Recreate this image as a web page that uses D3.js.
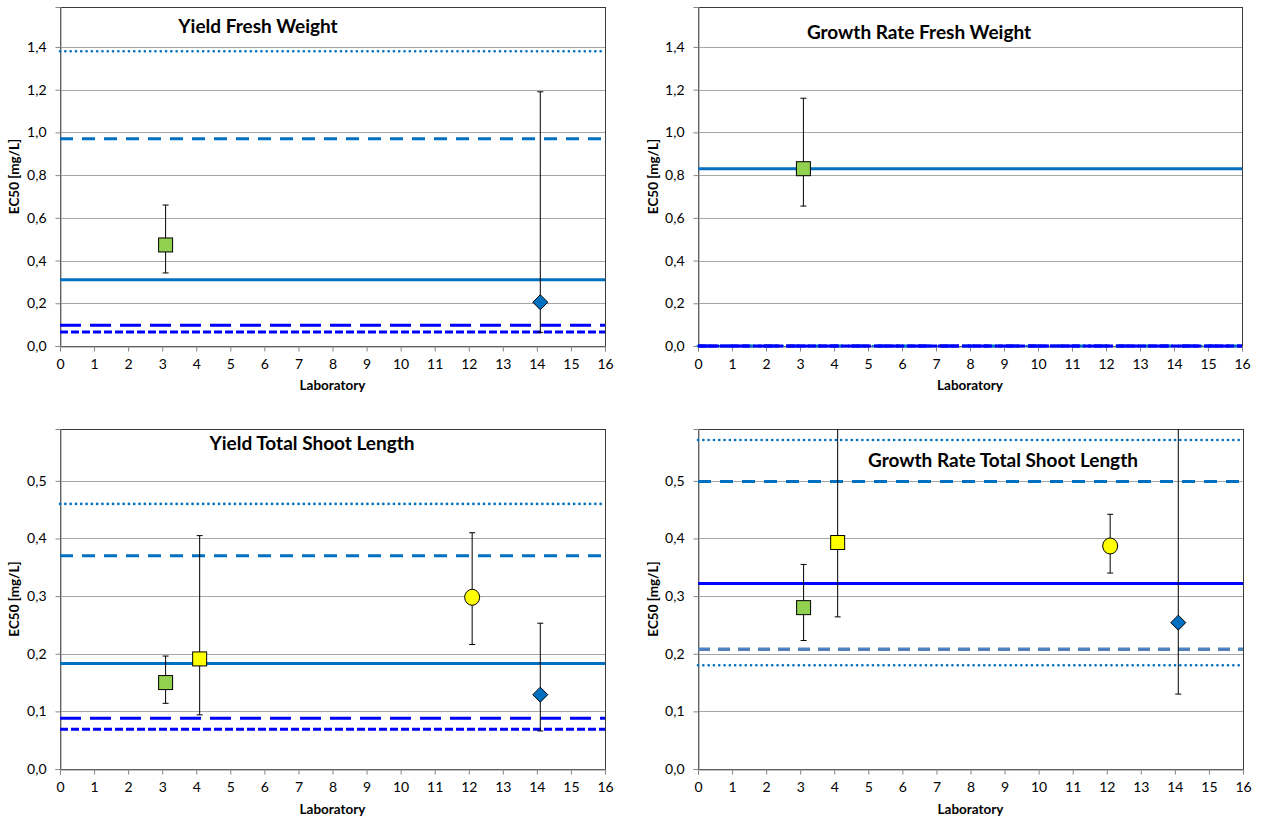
<!DOCTYPE html>
<html><head><meta charset="utf-8">
<script src="https://cdn.jsdelivr.net/npm/d3@7"></script>
<style>
body{margin:0;background:#fff;}
text{font-family:Lato,"Open Sans",sans-serif;}
</style></head>
<body><svg id="c" width="1263" height="819"></svg>
<script>
// ---- data ----
const panelTitles = ["Yield Fresh Weight","Growth Rate Fresh Weight","Yield Total Shoot Length","Growth Rate Total Shoot Length"];
const xTickLabels = [0,1,2,3,4,5,6,7,8,9,10,11,12,13,14,15,16];
const yTicksFW = [0,0.2,0.4,0.6,0.8,1.0,1.2,1.4];
const yTicksSL = [0,0.1,0.2,0.3,0.4,0.5];

// labs and their marker type
const labIds = [3,4,12,14];
const labMarkers = ["square","square","circle","diamond"];
const labColors = ["#92D050","#FFFF00","#FFFF00","#0070C0"];

// Yield Fresh Weight
const yfwLabs = [3,14];
const yfwEC50 = [0.473,0.205];
const yfwUpper = [0.66,1.19];
const yfwLower = [0.342,0.064];
const yfwRefValues = [1.38,0.97,0.31,0.097,0.065];
const yfwRefStyles = ["dot","dash","solid","longdash","shortdash"];

// Growth Rate Fresh Weight
const grfwLabs = [3];
const grfwEC50 = [0.83];
const grfwUpper = [1.16];
const grfwLower = [0.655];
const grfwRefValues = [0,0,0,0,0.83];
const grfwRefStyles = ["dot","dash","longdash","shortdash","solid"];

// Yield Total Shoot Length
const ytslLabs = [3,4,12,14];
const ytslEC50 = [0.150,0.191,0.298,0.129];
const ytslUpper = [0.196,0.405,0.410,0.253];
const ytslLower = [0.114,0.094,0.216,0.066];
const ytslRefValues = [0.46,0.37,0.183,0.088,0.069];
const ytslRefStyles = ["dot","dash","solid","longdash","shortdash"];

// Growth Rate Total Shoot Length
const grtslLabs = [3,4,12,14];
const grtslEC50 = [0.280,0.393,0.387,0.254];
const grtslUpper = [0.355,0.70,0.442,0.70];
const grtslLower = [0.223,0.264,0.340,0.130];
const grtslRefValues = [0.571,0.499,0.322,0.208,0.180];
const grtslRefStyles = ["dot","dash","solidblue","graydash","dot"];

// ---- styles ----
const lineStyles = {
  dot:{color:"#0070C0",w:2.6,dash:"0.1,5.2",cap:"round"},
  dash:{color:"#0070C0",w:3,dash:"13,9",cap:"butt"},
  solid:{color:"#0070C0",w:3,dash:null,cap:"butt"},
  solidblue:{color:"#0000FF",w:3,dash:null,cap:"butt"},
  longdash:{color:"#0000FF",w:3,dash:"21,9",cap:"butt"},
  shortdash:{color:"#0000FF",w:3,dash:"8,3",cap:"butt"},
  graydash:{color:"#4F81BD",w:3.5,dash:"12,8",cap:"butt"}
};

const panels = [
  {title:panelTitles[0], box:[60,605,7,346], yMax:1.587, yTicks:yTicksFW, titlePos:[258,28], ylabel:"EC50  [mg/L]", ylabX:16,
   labs:yfwLabs, ec:yfwEC50, up:yfwUpper, lo:yfwLower, refV:yfwRefValues, refS:yfwRefStyles, labY:387},
  {title:panelTitles[1], box:[698,1242,7,346], yMax:1.587, yTicks:yTicksFW, titlePos:[919,34], ylabel:"EC50  [mg/L]", ylabX:655,
   labs:grfwLabs, ec:grfwEC50, up:grfwUpper, lo:grfwLower, refV:grfwRefValues, refS:grfwRefStyles, labY:387},
  {title:panelTitles[2], box:[60,605,429,769], yMax:0.59, yTicks:yTicksSL, titlePos:[312,445], ylabel:"EC50  [mg/L]", ylabX:16,
   labs:ytslLabs, ec:ytslEC50, up:ytslUpper, lo:ytslLower, refV:ytslRefValues, refS:ytslRefStyles, labY:811},
  {title:panelTitles[3], box:[698,1243,429,769], yMax:0.59, yTicks:yTicksSL, titlePos:[1003,462], ylabel:"EC50 [mg/L]", ylabX:655,
   labs:grtslLabs, ec:grtslEC50, up:grtslUpper, lo:grtslLower, refV:grtslRefValues, refS:grtslRefStyles, labY:811}
];

const svg = d3.select("#c");
const fmt = v => d3.format(".1f")(v).replace(".",",");
const labOffset = 0.1;

panels.forEach((p,pi)=>{
  const [x0,x1,y0,y1] = p.box;
  const x = d3.scaleLinear().domain([0,16]).range([x0,x1]);
  const y = d3.scaleLinear().domain([0,p.yMax]).range([y1,y0]);
  const g = svg.append("g");
  const clipId = "clip"+pi;
  svg.append("clipPath").attr("id",clipId).append("rect")
    .attr("x",x0).attr("y",y0).attr("width",x1-x0).attr("height",y1-y0);

  // gridlines
  g.append("g").selectAll("line").data(p.yTicks.filter(t=>t>0)).join("line")
    .attr("x1",x0).attr("x2",x1).attr("y1",d=>Math.round(y(d))+0.5).attr("y2",d=>Math.round(y(d))+0.5)
    .attr("stroke","#A6A6A6").attr("stroke-width",1);

  // border
  g.append("rect").attr("x",x0+0.5).attr("y",y0+0.5).attr("width",x1-x0).attr("height",y1-y0)
    .attr("fill","none").attr("stroke","#3a3a3a").attr("stroke-width",1);

  // axes
  const xa = d3.axisBottom(x).tickValues(xTickLabels).tickSize(5).tickFormat(d=>d);
  const xg = g.append("g").attr("transform",`translate(0,${Math.round(y1)+0.5})`).call(xa);
  xg.select(".domain").attr("stroke","#868686");
  xg.selectAll(".tick line").attr("stroke","#868686");
  xg.selectAll("text").attr("font-size",14).attr("fill","#000").attr("y",11).attr("dy","0.8em");

  const ya = d3.axisLeft(y).tickValues(p.yTicks).tickSize(5).tickFormat(fmt);
  const yg = g.append("g").attr("transform",`translate(${x0+0.5},0)`).call(ya);
  yg.select(".domain").attr("stroke","#868686");
  yg.selectAll(".tick line").attr("stroke","#868686");
  yg.selectAll("text").attr("font-size",14).attr("fill","#000").attr("x",-14);

  // reference lines
  g.append("g").selectAll("line").data(p.refV.map((v,i)=>({v,s:lineStyles[p.refS[i]]}))).join("line")
    .attr("x1",x(0)).attr("x2",x(16)).attr("y1",d=>y(d.v)).attr("y2",d=>y(d.v))
    .attr("stroke",d=>d.s.color).attr("stroke-width",d=>d.s.w)
    .attr("stroke-dasharray",d=>d.s.dash).attr("stroke-linecap",d=>d.s.cap);

  // error bars
  const pts = p.labs.map((l,i)=>{
    const k = labIds.indexOf(l);
    return {lab:l, v:p.ec[i], up:p.up[i], lo:p.lo[i], m:labMarkers[k], c:labColors[k]};
  });
  const eb = g.append("g").attr("clip-path",`url(#${clipId})`);
  pts.forEach(d=>{
    const cx = x(d.lab+labOffset);
    eb.append("line").attr("x1",cx).attr("x2",cx).attr("y1",y(d.up)).attr("y2",y(d.lo))
      .attr("stroke","#000").attr("stroke-width",1);
    [d.up,d.lo].forEach(v=>{
      eb.append("line").attr("x1",cx-3).attr("x2",cx+3).attr("y1",y(v)).attr("y2",y(v))
        .attr("stroke","#000").attr("stroke-width",1);
    });
  });

  // markers
  const mk = g.append("g");
  pts.forEach(d=>{
    const cx = x(d.lab+labOffset), cy = y(d.v);
    if(d.m==="square"){
      mk.append("rect").attr("x",cx-7).attr("y",cy-7).attr("width",14).attr("height",14)
        .attr("fill",d.c).attr("stroke","#000").attr("stroke-width",1);
    } else if(d.m==="circle"){
      mk.append("ellipse").attr("cx",cx).attr("cy",cy).attr("rx",7.5).attr("ry",8)
        .attr("fill",d.c).attr("stroke","#000").attr("stroke-width",1);
    } else {
      mk.append("path").attr("d",`M${cx},${cy-7.5}L${cx+7.5},${cy}L${cx},${cy+7.5}L${cx-7.5},${cy}Z`)
        .attr("fill",d.c).attr("stroke","#000").attr("stroke-width",1);
    }
  });

  // title
  g.append("text").attr("x",p.titlePos[0]).attr("y",p.titlePos[1]).attr("text-anchor","middle")
    .attr("dominant-baseline","middle").attr("font-size",19).attr("font-weight","bold").text(p.title);
  // x label
  g.append("text").attr("x",(x0+x1)/2).attr("y",p.labY).attr("text-anchor","middle")
    .attr("dominant-baseline","middle").attr("font-size",13.5).attr("font-weight","bold").text("Laboratory");
  // y label
  g.append("text").attr("transform",`translate(${p.ylabX},${(y0+y1)/2}) rotate(-90)`)
    .attr("text-anchor","middle").attr("dominant-baseline","middle")
    .attr("font-size",13.5).attr("font-weight","bold").text(p.ylabel);
});
</script></body></html>
